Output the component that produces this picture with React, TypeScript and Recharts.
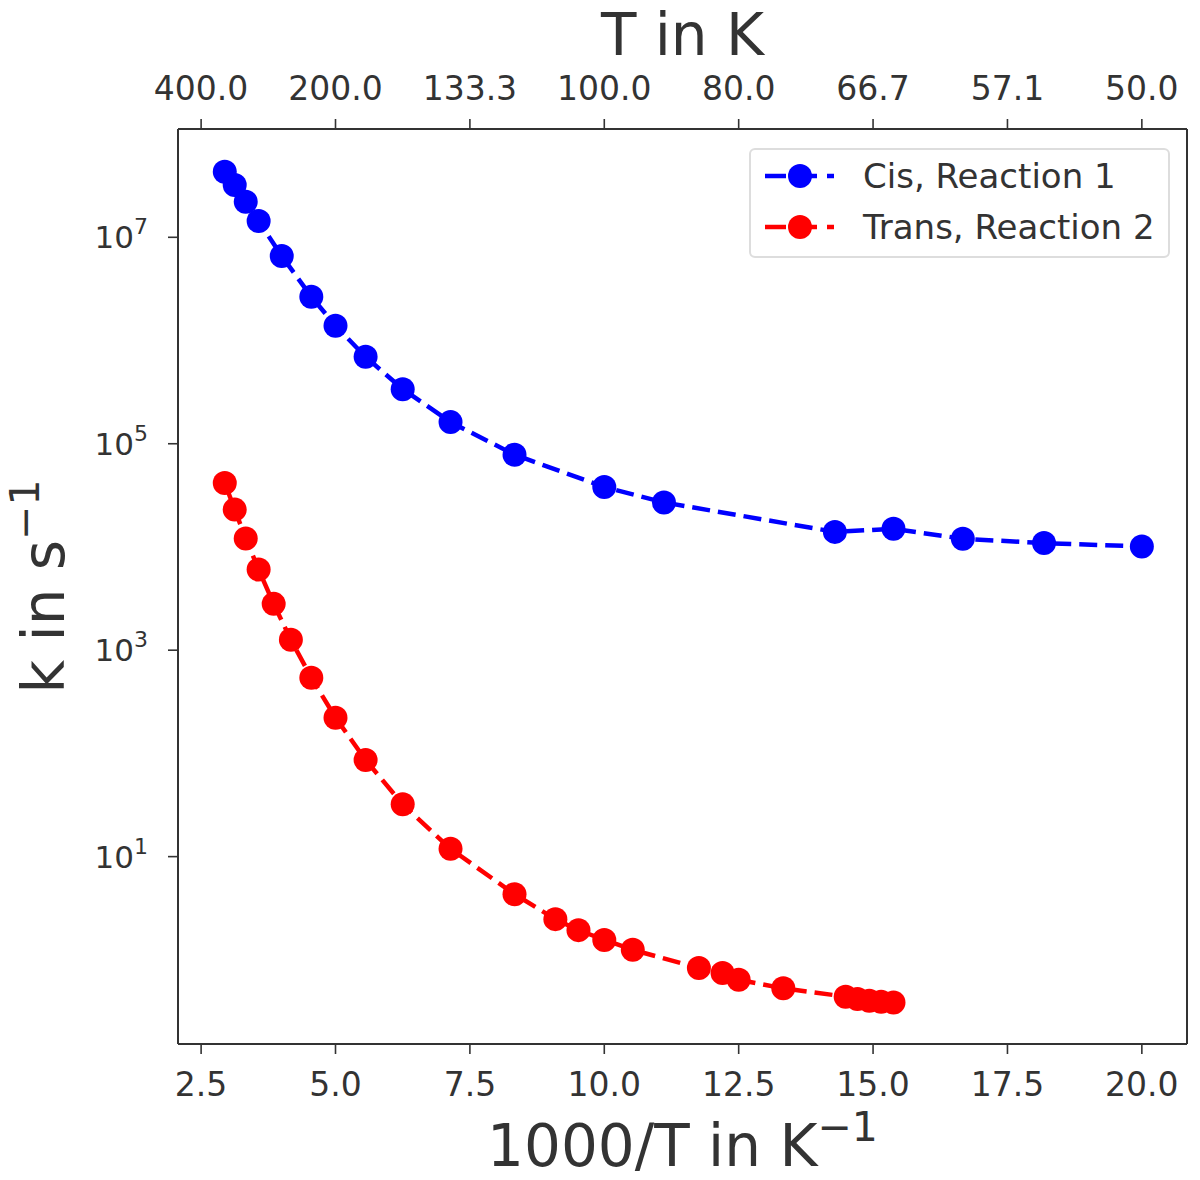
import { ComposedChart, Legend, Line, XAxis, YAxis } from "recharts";

// 1000/T (K^-1) and rate constants k (s^-1)
const cisInvT = [
  2.94, 3.125, 3.33, 3.57, 4.0, 4.55, 5.0, 5.56, 6.25, 7.14, 8.33, 10.0, 11.11,
  14.29, 15.38, 16.67, 18.18, 20.0,
];
const cisK = [
  4.32e7, 3.21e7, 2.21e7, 1.44e7, 6.59e6, 2.66e6, 1.39e6, 6.95e5, 3.38e5,
  1.62e5, 7.83e4, 3.81e4, 2.7e4, 1.4e4, 1.5e4, 1.2e4, 1.09e4, 1.01e4,
];

const transInvT = [
  2.94, 3.125, 3.33, 3.57, 3.85, 4.17, 4.55, 5.0, 5.56, 6.25, 7.14, 8.33, 9.09,
  9.52, 10.0, 10.53, 11.76, 12.2, 12.5, 13.33, 14.49, 14.71, 14.93, 15.15,
  15.38,
];
const transK = [
  4.17e4, 2.3e4, 1.21e4, 6.04e3, 2.81e3, 1.26e3, 541, 222, 86.3, 32.1, 11.9,
  4.33, 2.48, 1.94, 1.56, 1.25, 0.832, 0.745, 0.641, 0.53, 0.44, 0.417, 0.402,
  0.393, 0.387,
];

const xTicks = [2.5, 5, 7.5, 10, 12.5, 15, 17.5, 20];
const yTicks = [1e1, 1e3, 1e5, 1e7];

const cisData = cisInvT.map((x, i) => ({ x, k: cisK[i] }));
const transData = transInvT.map((x, i) => ({ x, k: transK[i] }));

const FONT = "'DejaVu Sans', sans-serif";
const INK = "#333333";
const X_DOMAIN: [number, number] = [2.07, 20.84];
const Y_DOMAIN: [number, number] = [0.153, 1.12e8];

function BottomTick({ x, y, payload }: any) {
  return (
    <text x={x} y={y} dy={23} textAnchor="middle" fill={INK} fontSize={33} fontFamily={FONT}>
      {Number(payload.value).toFixed(1)}
    </text>
  );
}

function TopTick({ x, y, payload }: any) {
  return (
    <text x={x} y={y} dy={1} textAnchor="middle" fill={INK} fontSize={33} fontFamily={FONT}>
      {(1000 / Number(payload.value)).toFixed(1)}
    </text>
  );
}

function LogTick({ x, y, payload }: any) {
  const exp = Math.round(Math.log10(Number(payload.value)));
  return (
    <text x={x} y={y} dy={11} textAnchor="end" fill={INK} fontSize={31} fontFamily={FONT}>
      10
      <tspan dy={-14} fontSize={22}>
        {exp}
      </tspan>
    </text>
  );
}

function TopTitle({ viewBox }: any) {
  const cx = viewBox.x + viewBox.width / 2;
  return (
    <text x={cx} y={viewBox.y + 55} textAnchor="middle" fill={INK} fontSize={58} fontFamily={FONT}>
      T in K
    </text>
  );
}

function BottomTitle({ viewBox }: any) {
  const cx = viewBox.x + viewBox.width / 2;
  return (
    <text x={cx} y={viewBox.y + 122} textAnchor="middle" fill={INK} fontSize={58} fontFamily={FONT}>
      1000/T in K
      <tspan dy={-25} fontSize={41}>
        −1
      </tspan>
    </text>
  );
}

function LeftTitle({ viewBox }: any) {
  const cx = 64;
  const cy = viewBox.y + viewBox.height / 2;
  return (
    <text
      x={cx}
      y={cy}
      textAnchor="middle"
      fill={INK}
      fontSize={58}
      fontFamily={FONT}
      transform={`rotate(-90 ${cx} ${cy})`}
    >
      k in s
      <tspan dy={-25} fontSize={41}>
        −1
      </tspan>
    </text>
  );
}

function LegendBox({ payload }: any) {
  return (
    <div
      style={{
        boxSizing: "border-box",
        width: 421,
        height: 110,
        border: "2px solid #dddddd",
        borderRadius: 6,
        background: "rgba(255,255,255,0.8)",
        padding: "0 14px",
        fontFamily: FONT,
      }}
    >
      {(payload || []).map((entry: any) => (
        <div key={entry.value} style={{ display: "flex", alignItems: "center", height: 51 }}>
          <svg width={69} height={30} style={{ flex: "none" }}>
            <line x1={0} y1={15} x2={69} y2={15} stroke={entry.color} strokeWidth={4.5} strokeDasharray="21 10" />
            <circle cx={35} cy={15} r={12} fill={entry.color} />
          </svg>
          <span style={{ marginLeft: 29, fontSize: 34, color: INK, whiteSpace: "nowrap" }}>{entry.value}</span>
        </div>
      ))}
    </div>
  );
}

export default function App() {
  return (
    <div style={{ width: 1200, height: 1180, margin: -8, background: "#fff" }}>
      <ComposedChart
        width={1200}
        height={1180}
        margin={{ top: 0, right: 0, bottom: 0, left: 0 }}
        style={{ fontFamily: FONT }}
      >
        <XAxis
          xAxisId="bottom"
          dataKey="x"
          type="number"
          orientation="bottom"
          domain={X_DOMAIN}
          ticks={xTicks}
          allowDataOverflow
          height={136}
          tickSize={10}
          tickMargin={19}
          tick={<BottomTick />}
          tickLine={{ stroke: INK, strokeWidth: 1.6 }}
          axisLine={{ stroke: INK, strokeWidth: 2 }}
          label={{ content: (p: any) => <BottomTitle {...p} /> }}
        />
        <XAxis
          xAxisId="top"
          dataKey="x"
          type="number"
          orientation="top"
          domain={X_DOMAIN}
          ticks={xTicks}
          allowDataOverflow
          height={129}
          tickSize={10}
          tickMargin={20}
          tick={<TopTick />}
          tickLine={{ stroke: INK, strokeWidth: 1.6 }}
          axisLine={{ stroke: INK, strokeWidth: 2 }}
          label={{ content: (p: any) => <TopTitle {...p} /> }}
        />
        <YAxis
          yAxisId="left"
          dataKey="k"
          scale="log"
          type="number"
          domain={Y_DOMAIN}
          ticks={yTicks}
          allowDataOverflow
          width={178}
          tickSize={10}
          tickMargin={20}
          tick={<LogTick />}
          tickLine={{ stroke: INK, strokeWidth: 1.6 }}
          axisLine={{ stroke: INK, strokeWidth: 2 }}
          label={{ content: (p: any) => <LeftTitle {...p} /> }}
        />
        <YAxis
          yAxisId="right"
          orientation="right"
          type="number"
          domain={[0, 1]}
          width={13}
          tick={false}
          tickLine={false}
          axisLine={{ stroke: INK, strokeWidth: 2 }}
        />
        <Legend
          layout="vertical"
          align="center"
          verticalAlign="middle"
          wrapperStyle={{ top: 148, left: 749, width: 421, height: 110 }}
          content={(props: any) => <LegendBox {...props} />}
        />
        <Line
          xAxisId="bottom"
          yAxisId="left"
          data={cisData}
          dataKey="k"
          name="Cis, Reaction 1"
          type="linear"
          stroke="#0000ff"
          strokeWidth={4.5}
          strokeDasharray="18 8"
          dot={{ r: 12, fill: "#0000ff", stroke: "#0000ff", strokeWidth: 0, strokeDasharray: "" }}
          activeDot={false}
          isAnimationActive={false}
        />
        <Line
          xAxisId="bottom"
          yAxisId="left"
          data={transData}
          dataKey="k"
          name="Trans, Reaction 2"
          type="linear"
          stroke="#ff0000"
          strokeWidth={4.5}
          strokeDasharray="18 8"
          dot={{ r: 12, fill: "#ff0000", stroke: "#ff0000", strokeWidth: 0, strokeDasharray: "" }}
          activeDot={false}
          isAnimationActive={false}
        />
      </ComposedChart>
    </div>
  );
}
